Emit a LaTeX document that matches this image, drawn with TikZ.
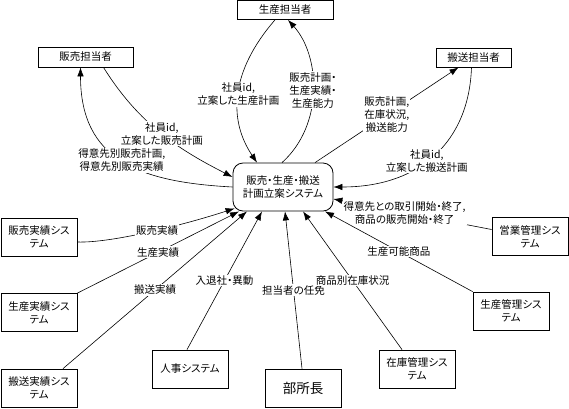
\documentclass[tikz,border=0pt]{standalone}
\usepackage{fontspec}
\setmainfont[RawFeature=+palt]{Noto Sans CJK JP}
\usetikzlibrary{arrows.meta}

\begin{document}
\begin{tikzpicture}[x=1pt,y=1pt,>={Latex[length=9pt,width=6.5pt]},
  every node/.style={font=\fontsize{10.5}{13}\selectfont},
  box/.style={draw,line width=0.8pt,inner sep=0pt,minimum height=19pt,align=center},
  sys/.style={box,minimum width=76pt,minimum height=38pt},
  plan/.style={box,rounded corners=10pt,minimum width=100pt,minimum height=48pt},
  lbl/.style={fill=white,inner sep=1pt,align=center},
  flow/.style={->,line width=0.6pt}]
\useasboundingbox (0,0) rectangle (569,-408);
% actors and systems
\node[box,minimum width=96pt] (prod) at (285,-10) {生産担当者};
\node[box,minimum width=95pt,minimum height=20pt] (sales) at (85.5,-57) {販売担当者};
\node[box,minimum width=75pt] (ship) at (473.5,-57.5) {搬送担当者};
\node[plan] (plan) at (283,-187) {販売・生産・搬送\\計画立案システム};
\node[sys] (salesrec) at (39,-237) {販売実績シス\\テム};
\node[sys] (prodrec) at (39,-312.5) {生産実績シス\\テム};
\node[sys] (shiprec) at (39,-388) {搬送実績シス\\テム};
\node[sys] (hr) at (190,-369) {人事システム};
\node[sys,font=\fontsize{13.5}{15}\selectfont] (mgr) at (303,-388) {部所長};
\node[sys] (stock) at (417,-369) {在庫管理シス\\テム};
\node[sys] (prodmgmt) at (511,-311) {生産管理シス\\テム};
\node[sys] (bizmgmt) at (530,-236.5) {営業管理シス\\テム};
% flows to and from the persons in charge
\draw[flow] ([xshift=-10pt]prod.south) to[out=229,in=124,out distance=68pt,in distance=52pt] node[lbl]{社員id,\\立案した生産計画} ([xshift=-26pt]plan.north);
\draw[flow] ([xshift=-1pt]plan.north) to[out=42,in=-48,out distance=57pt,in distance=48pt] node[lbl]{販売計画・\\生産実績・\\生産能力} ([xshift=3pt]prod.south);
\draw[flow] ([xshift=18pt]sales.south) to[out=-58,in=153,out distance=68pt,in distance=59pt] node[lbl]{社員id,\\立案した販売計画} ([yshift=10pt]plan.west);
\draw[flow] (plan.west) to[out=177,in=-90,out distance=93pt,in distance=93pt] node[lbl]{得意先別販売計画,\\得意先別販売実績} ([xshift=-5pt]sales.south);
\draw[flow] ([xshift=32pt]plan.north) -- node[lbl]{販売計画,\\在庫状況,\\搬送能力} ([xshift=-15pt]ship.south);
\draw[flow] ([xshift=-2pt]ship.south) to[out=-92,in=0,out distance=74pt,in distance=87pt] node[lbl,pos=0.55]{社員id,\\立案した搬送計画} (plan.east);
% flows from the other systems
\draw[flow] ([yshift=7pt]bizmgmt.west) -- node[lbl,pos=0.55]{得意先との取引開始・終了,\\商品の販売開始・終了} ([yshift=-12pt]plan.east);
\draw[flow] ([yshift=-5pt]salesrec.east) to[out=-2,in=198,out distance=33pt,in distance=56pt] node[lbl,pos=0.55]{販売実績} ([shift={(2pt,3pt)}]plan.south west);
\draw[flow] (prodrec.north east) -- node[lbl]{生産実績} ([xshift=-44pt]plan.south);
\draw[flow] ([xshift=24pt]shiprec.north) -- node[lbl]{搬送実績} ([xshift=-36pt]plan.south);
\draw[flow] ([xshift=-3pt]hr.north) -- node[lbl]{入退社・異動} ([xshift=-21pt]plan.south);
\draw[flow] ([xshift=-1pt]mgr.north) -- node[lbl]{担当者の任免} ([xshift=2pt]plan.south);
\draw[flow] ([xshift=-15pt]stock.north) -- node[lbl]{商品別在庫状況} ([xshift=20pt]plan.south);
\draw[flow] (prodmgmt.north west) -- node[lbl]{生産可能商品} ([xshift=42pt]plan.south);
\end{tikzpicture}
\end{document}
